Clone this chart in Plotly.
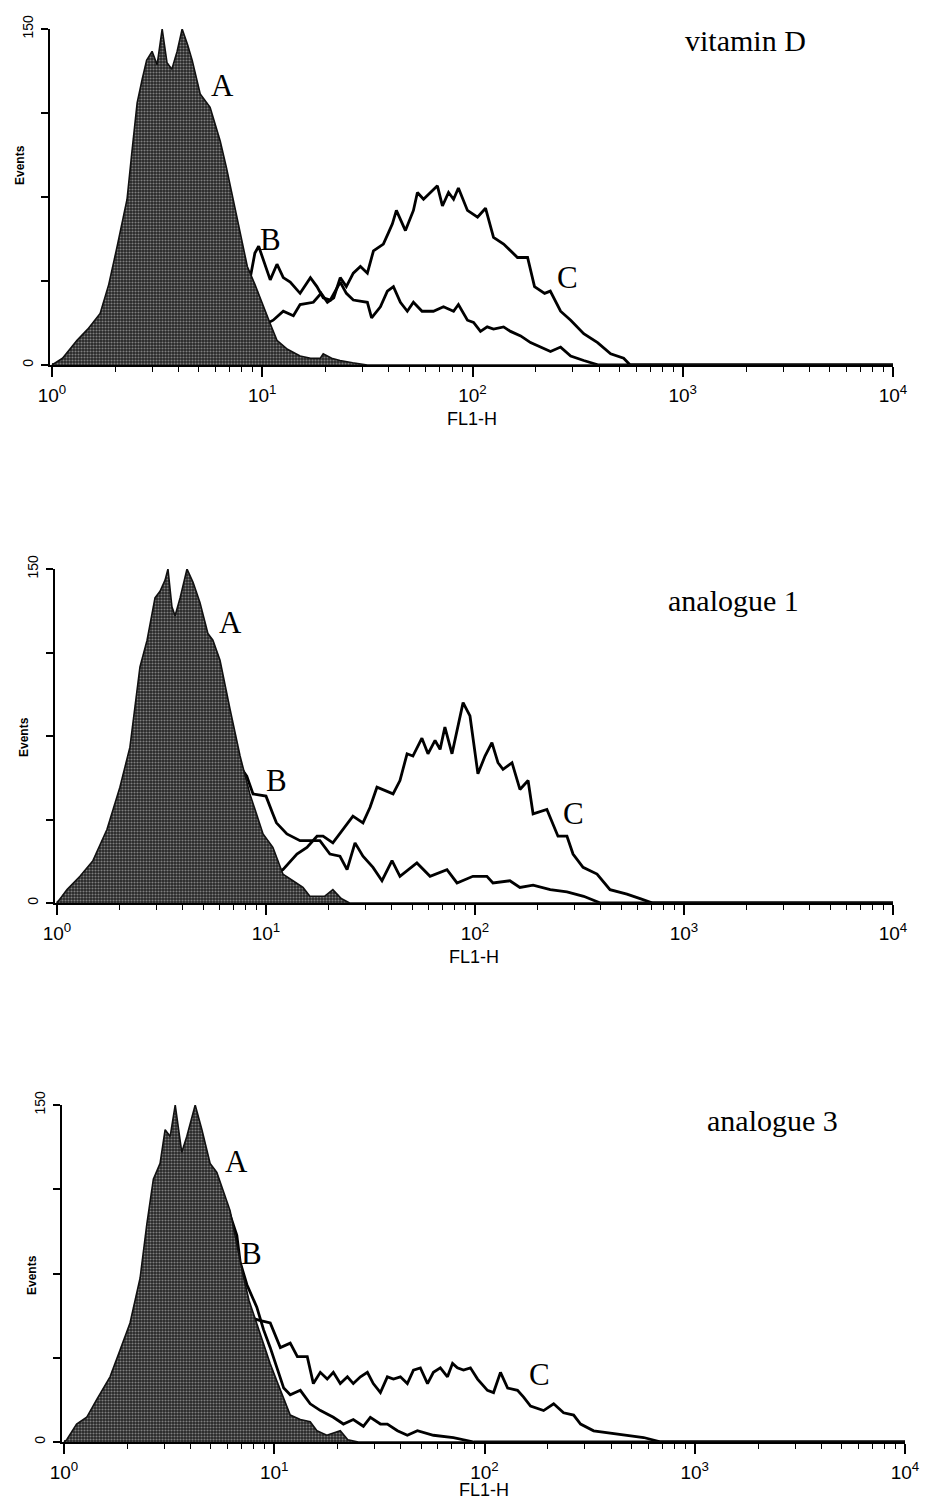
import plotly.graph_objects as go

# ---------------- data (FL1-H as log10 decade position, counts) ----------------
# Panel 1: vitamin D
p1_A_log = [0.0, 0.05, 0.119, 0.17, 0.229, 0.27, 0.31, 0.357, 0.38, 0.405, 0.43, 0.45, 0.476, 0.5, 0.524, 0.547,
            0.57, 0.595, 0.619, 0.645, 0.667, 0.705, 0.752, 0.8, 0.83, 0.862, 0.895, 0.929, 0.965, 1.005, 1.04,
            1.07, 1.12, 1.18, 1.23, 1.276, 1.29, 1.33, 1.37, 1.43, 1.5, 4.0]
p1_A_cnt = [0, 3, 11, 16, 23, 36, 53, 74, 95, 117, 128, 136, 140, 134, 150, 135,
            132, 140, 150, 143, 136, 121, 115, 100, 88, 74, 60, 44, 36, 26, 18,
            11, 7, 4, 3, 3, 5, 3, 2, 1, 0, 0]
p1_B_log = [0.0, 0.1, 0.2, 0.3, 0.4, 0.5, 0.6, 0.7, 0.8, 0.9, 0.943, 0.965, 0.983, 1.005, 1.038, 1.07, 1.1, 1.133,
            1.18, 1.229, 1.26, 1.29, 1.324, 1.371, 1.4, 1.433, 1.5, 1.52, 1.562, 1.595, 1.624, 1.657, 1.69,
            1.719, 1.76, 1.814, 1.862, 1.91, 1.933, 1.976, 2.005, 2.038, 2.07, 2.1, 2.148, 2.181, 2.229, 2.276,
            2.324, 2.371, 2.419, 2.467, 2.529, 2.6, 4.0]
p1_B_cnt = [0, 0, 8, 22, 40, 55, 62, 60, 52, 42, 39, 50, 53, 47, 38, 45, 39, 37,
            32, 39, 35, 30, 29, 37, 32, 29, 28, 21, 26, 33, 35, 28, 24,
            28, 24, 24, 26, 24, 27, 20, 19, 15, 17, 16, 17, 15, 13, 10,
            8, 6, 8, 4, 2, 0, 0]
p1_C_log = [0.0, 0.5, 0.7, 0.85, 0.95, 1.052, 1.1, 1.148, 1.18, 1.243, 1.28, 1.31, 1.34, 1.371, 1.4, 1.433, 1.467,
            1.5, 1.529, 1.576, 1.6, 1.619, 1.638, 1.681, 1.719, 1.738, 1.767, 1.8, 1.833, 1.857, 1.886, 1.91,
            1.933, 1.976, 2.024, 2.062, 2.1, 2.148, 2.214, 2.262, 2.276, 2.295, 2.343, 2.37, 2.419, 2.467,
            2.529, 2.595, 2.657, 2.719, 2.75, 4.0]
p1_C_cnt = [0, 0, 4, 10, 15, 20, 24, 22, 27, 28, 32, 28, 30, 39, 35, 41, 44,
            41, 51, 54, 59, 63, 69, 60, 69, 77, 74, 77, 80, 71, 77, 74,
            79, 69, 66, 70, 57, 54, 48, 48, 42, 35, 32, 33, 24, 20,
            14, 10, 5, 3, 0, 0]

# Panel 2: analogue 1
p2_A_log = [0.0, 0.048, 0.11, 0.172, 0.239, 0.301, 0.349, 0.397, 0.431, 0.469, 0.493, 0.517, 0.531, 0.55, 0.565,
            0.589, 0.622, 0.651, 0.684, 0.722, 0.746, 0.78, 0.828, 0.876, 0.923, 0.986, 1.033, 1.081, 1.129,
            1.177, 1.21, 1.28, 1.32, 1.36, 1.4, 4.0]
p2_A_cnt = [0, 6, 12, 19, 33, 52, 70, 106, 118, 137, 140, 145, 150, 133, 129,
            137, 150, 144, 135, 121, 118, 109, 87, 66, 49, 31, 25, 13, 10,
            7, 3, 3, 6, 2, 0, 0]
p2_B_log = [0.0, 0.1, 0.2, 0.3, 0.4, 0.5, 0.55, 0.62, 0.7, 0.8, 0.87, 0.908, 0.938, 1.0, 1.033, 1.05, 1.1, 1.163,
            1.21, 1.258, 1.306, 1.354, 1.388, 1.426, 1.464, 1.512, 1.555, 1.603, 1.641, 1.722, 1.785, 1.866,
            1.914, 1.99, 2.057, 2.086, 2.167, 2.215, 2.278, 2.36, 2.44, 2.52, 2.6, 4.0]
p2_B_cnt = [0, 8, 20, 40, 70, 88, 90, 85, 80, 70, 62, 57, 49, 48, 40, 36, 31, 28,
            28, 28, 22, 21, 15, 27, 21, 16, 10, 19, 12, 18, 12, 15,
            9, 12, 12, 9, 10, 7, 8, 6, 5, 3, 0, 0]
p2_C_log = [0.0, 0.5, 0.7, 0.9, 1.0, 1.081, 1.148, 1.196, 1.244, 1.273, 1.32, 1.368, 1.416, 1.464, 1.498, 1.531,
            1.608, 1.641, 1.675, 1.703, 1.746, 1.775, 1.809, 1.833, 1.856, 1.89, 1.919, 1.943, 1.976, 2.014,
            2.048, 2.081, 2.11, 2.134, 2.177, 2.215, 2.254, 2.278, 2.344, 2.397, 2.44, 2.469, 2.517, 2.584,
            2.646, 2.727, 2.79, 2.85, 4.0]
p2_C_cnt = [0, 0, 3, 8, 11, 15, 22, 25, 30, 30, 27, 33, 39, 36, 43, 52,
            49, 55, 67, 66, 74, 67, 73, 69, 79, 67, 79, 90, 84, 58,
            66, 72, 63, 60, 63, 51, 55, 40, 42, 30, 30, 22, 16, 13,
            6, 4, 2, 0, 0]

# Panel 3: analogue 3
p3_A_log = [0.0, 0.013, 0.06, 0.108, 0.156, 0.219, 0.267, 0.314, 0.362, 0.394, 0.425, 0.457, 0.481, 0.505, 0.529,
            0.56, 0.584, 0.624, 0.656, 0.695, 0.727, 0.757, 0.79, 0.822, 0.85, 0.88, 0.92, 0.95, 0.98, 1.013,
            1.045, 1.076, 1.124, 1.171, 1.203, 1.25, 1.314, 1.35, 1.4, 4.0]
p3_A_cnt = [0, 1, 8, 11, 19, 29, 41, 53, 73, 97, 117, 124, 139, 136, 150,
            129, 136, 150, 139, 124, 120, 112, 103, 88, 75, 63, 52, 43, 35, 27,
            19, 12, 10, 9, 5, 3, 5, 1, 0, 0]
p3_B_log = [0.0, 0.05, 0.15, 0.25, 0.35, 0.45, 0.55, 0.65, 0.72, 0.79, 0.822, 0.838, 0.87, 0.917, 0.949, 0.981,
            1.013, 1.045, 1.076, 1.124, 1.171, 1.22, 1.281, 1.329, 1.376, 1.424, 1.457, 1.505, 1.538, 1.586,
            1.633, 1.681, 1.757, 1.852, 1.95, 4.0]
p3_B_cnt = [0, 0, 8, 25, 50, 75, 90, 100, 103, 101, 92, 80, 70, 60, 50, 42,
            33, 24, 21, 23, 17, 14, 11, 8, 10, 7, 11, 8, 8, 5,
            3, 5, 3, 2, 0, 0]
p3_C_log = [0.0, 0.1, 0.2, 0.3, 0.4, 0.5, 0.6, 0.68, 0.72, 0.8, 0.86, 0.9, 0.935, 0.981, 1.029, 1.076, 1.11, 1.157,
            1.186, 1.219, 1.252, 1.281, 1.314, 1.348, 1.376, 1.41, 1.443, 1.471, 1.505, 1.538, 1.567, 1.6,
            1.633, 1.662, 1.695, 1.729, 1.757, 1.79, 1.824, 1.848, 1.871, 1.9, 1.933, 1.967, 2.014, 2.043,
            2.076, 2.11, 2.157, 2.186, 2.219, 2.281, 2.329, 2.376, 2.424, 2.457, 2.519, 2.6, 2.681, 2.757,
            2.84, 4.0]
p3_C_cnt = [0, 0, 6, 15, 30, 48, 62, 72, 75, 68, 60, 55, 54, 53, 42, 44, 38, 38,
            26, 31, 28, 31, 26, 29, 26, 29, 31, 26, 22, 29, 28, 29,
            26, 32, 33, 26, 31, 33, 29, 35, 33, 32, 33, 28, 23, 22,
            31, 24, 23, 20, 16, 14, 17, 13, 12, 8, 5, 4, 3, 2,
            0, 0]

panel_titles = ["vitamin D", "analogue 1", "analogue 3"]
x_tick_decades = [0, 1, 2, 3, 4]
y_tick_vals = [0, 150]
y_minor_step = 37.5
curve_labels = ["A", "B", "C"]
# label anchor points (log10 FL1-H, counts) per panel
label_pos = [
    [(0.81, 125), (1.04, 56), (2.45, 39)],
    [(0.83, 126), (1.05, 55), (2.47, 40)],
    [(0.82, 125), (0.89, 84), (2.26, 30)],
]

panels = [
    (p1_A_log, p1_A_cnt, p1_B_log, p1_B_cnt, p1_C_log, p1_C_cnt),
    (p2_A_log, p2_A_cnt, p2_B_log, p2_B_cnt, p2_C_log, p2_C_cnt),
    (p3_A_log, p3_A_cnt, p3_B_log, p3_B_cnt, p3_C_log, p3_C_cnt),
]

# ---------------- layout geometry (pixels) ----------------
W, H = 926, 1508
# (x_left, x_right, y_top, y_bottom) of each plot area
geom = [(50, 893, 29, 365), (55, 893, 569, 903), (62, 905, 1105, 1442)]
title_pos = [(745, 40), (733, 600), (772, 1120)]
xtitle_off = [54, 54, 48]
events_pos = [(20, 165), (24, 737), (32, 1275)]

SANS = "Liberation Sans, Arial, sans-serif"
SERIF = "Liberation Serif, Times New Roman, serif"

fig = go.Figure()
layout = dict(width=W, height=H, margin=dict(l=0, r=0, t=0, b=0, autoexpand=False),
              paper_bgcolor="white", plot_bgcolor="white", showlegend=False)
annotations = []

minor_vals = [m * 10 ** d for d in range(4) for m in range(2, 10)]

for i, (aL, aC, bL, bC, cL, cC) in enumerate(panels):
    k = "" if i == 0 else str(i + 1)
    xa, ya = "x" + k, "y" + k
    x0, x1, yt, yb = geom[i]
    # B and C: open outlines (drawn first, partly hidden under A)
    for lg, ct in ((bL, bC), (cL, cC)):
        fig.add_trace(go.Scatter(x=[10 ** v for v in lg], y=ct, xaxis=xa, yaxis=ya, mode="lines",
                                 line=dict(color="black", width=2.8), hoverinfo="skip"))
    # A: filled, stippled
    fig.add_trace(go.Scatter(x=[10 ** v for v in aL], y=aC, xaxis=xa, yaxis=ya, mode="lines",
                             line=dict(color="#111111", width=1.6), fill="tozeroy",
                             fillcolor="#2a2a2a",
                             fillpattern=dict(shape=".", bgcolor="#262626", fgcolor="#d8d8d8",
                                              size=3, solidity=0.4),
                             hoverinfo="skip"))

    layout["xaxis" + k] = dict(
        type="log", range=[-0.0095, 4.0], domain=[x0 / W, x1 / W], anchor=ya, automargin=False,
        showgrid=False, zeroline=False, showline=True, linecolor="black", linewidth=2,
        ticks="outside", ticklen=10, tickwidth=1.5, tickcolor="black",
        tickvals=[10 ** d for d in x_tick_decades],
        ticktext=["10<sup>%d</sup>" % d for d in x_tick_decades],
        tickfont=dict(family=SANS, size=19, color="black"), ticklabelstandoff=2,
        minor=dict(tickvals=minor_vals, ticks="outside", ticklen=5, tickwidth=1.3,
                   tickcolor="black", showgrid=False),
    )
    layout["yaxis" + k] = dict(
        range=[0, 150], domain=[1 - yb / H, 1 - yt / H], anchor=xa, automargin=False,
        showgrid=False, zeroline=False, showline=True, linecolor="black", linewidth=2,
        ticks="outside", ticklen=7, tickwidth=1.5, tickcolor="black",
        tickmode="array", tickvals=y_tick_vals, ticktext=[str(v) for v in y_tick_vals], tickangle=-90,
        tickfont=dict(family=SANS, size=14, color="black"), ticklabelstandoff=2,
        minor=dict(tick0=0, dtick=y_minor_step, ticks="outside", ticklen=7, tickwidth=1.5,
                   tickcolor="black", showgrid=False),
    )
    # panel title
    tx, ty = title_pos[i]
    annotations.append(dict(text=panel_titles[i], x=tx / W, y=1 - ty / H, xref="paper", yref="paper",
                            showarrow=False, font=dict(family=SERIF, size=30, color="black"),
                            xanchor="center", yanchor="middle"))
    # curve labels
    for lab, (lx, ly) in zip(curve_labels, label_pos[i]):
        annotations.append(dict(text=lab, x=lx, y=ly, xref=xa, yref=ya, showarrow=False,
                                font=dict(family=SERIF, size=31, color="black"),
                                xanchor="center", yanchor="middle"))
    # y title
    ex, ey = events_pos[i]
    annotations.append(dict(text="<b>Events</b>", x=ex / W, y=1 - ey / H,
                            xref="paper", yref="paper", showarrow=False, textangle=-90,
                            font=dict(family=SANS, size=12, color="black"),
                            xanchor="center", yanchor="middle"))
    # x title
    annotations.append(dict(text="FL1-H", x=((x0 + x1) / 2) / W, y=1 - (yb + xtitle_off[i]) / H,
                            xref="paper", yref="paper", showarrow=False,
                            font=dict(family=SANS, size=18, color="black"),
                            xanchor="center", yanchor="middle"))

layout["annotations"] = annotations
fig.update_layout(**layout)
fig.write_html("out.html", config={"displayModeBar": False},
               post_script="document.body.style.margin='0px';")
